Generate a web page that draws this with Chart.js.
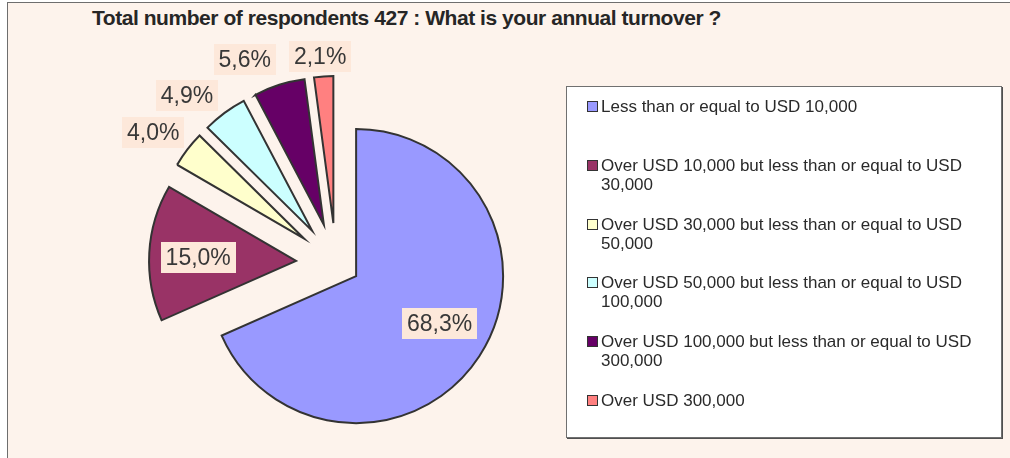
<!DOCTYPE html>
<html>
<head>
<meta charset="utf-8">
<title>Annual turnover</title>
<script src="https://cdn.jsdelivr.net/npm/chart.js@4/dist/chart.umd.min.js"></script>
<style>
  html, body { margin: 0; padding: 0; width: 1010px; height: 458px; overflow: hidden; background: #ffffff;
               font-family: "Liberation Sans", Arial, sans-serif; }
  #frame { position: absolute; left: 7px; top: 2px; width: 1020px; height: 470px; background: #fdf3ec;
           border-left: 1px solid #6e6e6e; border-top: 1px solid #6e6e6e; }
  #title { position: absolute; left: 92px; top: 5px; white-space: nowrap; font-weight: bold; font-size: 21px;
           letter-spacing: -0.45px; line-height: 25px; color: #262626; }
  #pie { position: absolute; left: 0; top: 0; }
  #legend { position: absolute; left: 566px; top: 86px; width: 434px; height: 350px; background: #ffffff;
            border: 1px solid #707070; box-shadow: 1px 1px 0 #505050; }
  .item { position: absolute; left: 0; width: 100%; }
  .swatch { position: absolute; left: 20px; top: 4px; width: 9px; height: 9px; border: 1.5px solid #333; }
  .text { position: absolute; left: 34px; width: 392px; font-size: 17px; line-height: 19px; color: #2a2a2a; }
</style>
</head>
<body>
<div id="frame"></div>
<div id="title">Total number of respondents 427 : What is your annual turnover ?</div>
<canvas id="pie" width="1010" height="458"></canvas>
<div id="legend"></div>
<script>
// Turnover bands and their share of respondents (%)
const categories = [
  'Less than or equal to USD 10,000',
  'Over USD 10,000 but less than or equal to USD 30,000',
  'Over USD 30,000 but less than or equal to USD 50,000',
  'Over USD 50,000 but less than or equal to USD 100,000',
  'Over USD 100,000 but less than or equal to USD 300,000',
  'Over USD 300,000'
];
const shares = [68.3, 15.0, 4.0, 4.9, 5.6, 2.1];
const valueLabels = shares.map(v => v.toFixed(1).replace('.', ',') + '%');

// Styling
const sliceColors = ['#9999ff', '#993366', '#ffffcc', '#ccffff', '#660066', '#ff8080'];
const explode = [24, 40, 40, 40, 40, 40];           // how far each slice is pulled out
const labelDist = [96, 98, 185, 185, 185, 185];      // label distance from the slice tip
const labelNudge = [[3, -5], [0, 2], [-4, 6], [-15, 13], [-23, 11], [-1, 18]];

// Pull each slice outward along its middle angle
const explodePlugin = {
  id: 'explode',
  afterDatasetUpdate(chart, args) {
    args.meta.data.forEach((arc, i) => {
      const mid = (arc.startAngle + arc.endAngle) / 2;
      arc.x += Math.cos(mid) * explode[i];
      arc.y += Math.sin(mid) * explode[i];
    });
  }
};

// Percentage labels in boxed callouts
const valueLabelPlugin = {
  id: 'valueLabels',
  afterDatasetsDraw(chart) {
    const ctx = chart.ctx;
    const meta = chart.getDatasetMeta(0);
    ctx.save();
    ctx.font = '23px "Liberation Sans", Arial, sans-serif';
    ctx.textAlign = 'center';
    ctx.textBaseline = 'middle';
    meta.data.forEach((arc, i) => {
      const mid = (arc.startAngle + arc.endAngle) / 2;
      const cx = arc.x + Math.cos(mid) * labelDist[i] + labelNudge[i][0];
      const cy = arc.y + Math.sin(mid) * labelDist[i] + labelNudge[i][1];
      const text = valueLabels[i];
      const w = Math.round(ctx.measureText(text).width + 10);
      const h = 31;
      ctx.fillStyle = '#fde8da';
      ctx.fillRect(Math.round(cx - w / 2), Math.round(cy - h / 2), w, h);
      ctx.fillStyle = '#383838';
      ctx.fillText(text, cx, cy + 1);
    });
    ctx.restore();
  }
};

const chart = new Chart(document.getElementById('pie'), {
  type: 'pie',
  data: {
    labels: categories,
    datasets: [{
      data: shares,
      backgroundColor: sliceColors,
      borderColor: '#333333',
      borderWidth: 2,
      borderJoinStyle: 'miter',
      radius: 147
    }]
  },
  options: {
    responsive: false,
    animation: false,
    events: [],
    radius: 147,
    layout: { padding: { left: 166, right: 504, top: 93, bottom: 25 } },
    plugins: {
      legend: { display: false },
      tooltip: { enabled: false },
      title: { display: false }
    }
  },
  plugins: [explodePlugin, valueLabelPlugin]
});

// Legend panel on the right, built from the chart's own legend items
const legendEl = document.getElementById('legend');
const items = chart.options.plugins.legend.labels.generateLabels(chart);
items.forEach((it, i) => {
  const row = document.createElement('div');
  row.className = 'item';
  row.style.top = (10 + i * 58.8) + 'px';
  const sw = document.createElement('div');
  sw.className = 'swatch';
  sw.style.background = it.fillStyle;
  const tx = document.createElement('div');
  tx.className = 'text';
  tx.textContent = it.text;
  row.appendChild(sw);
  row.appendChild(tx);
  legendEl.appendChild(row);
});
</script>
</body>
</html>
